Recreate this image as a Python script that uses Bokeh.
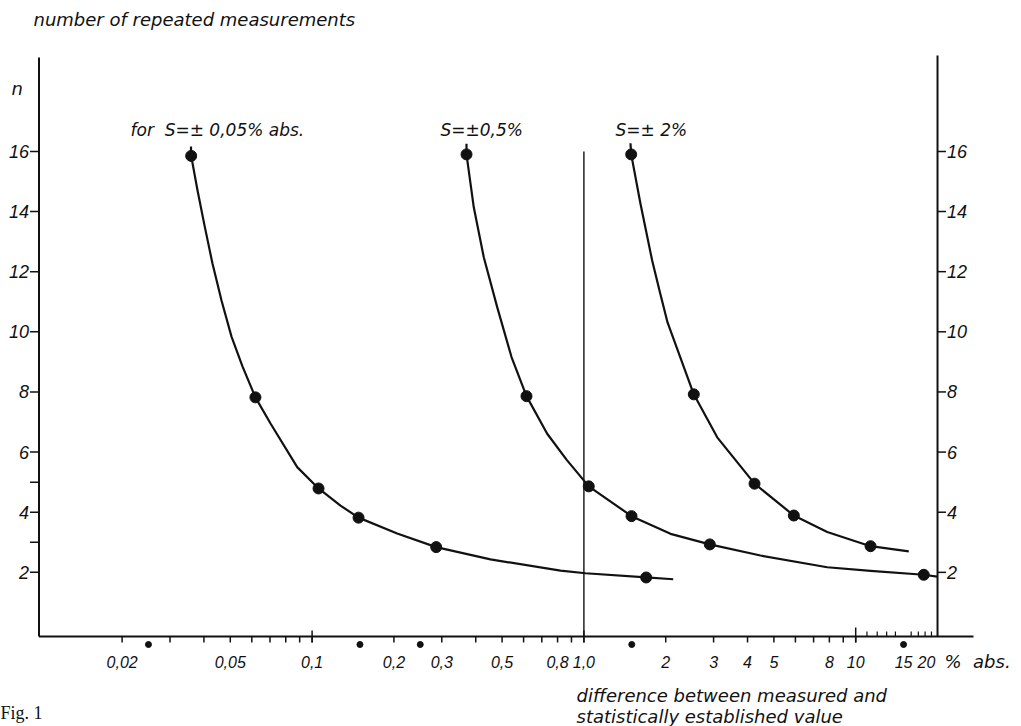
from bokeh.plotting import figure
from bokeh.models import Range1d
from bokeh.core.properties import value
from bokeh.embed import file_html
from bokeh.resources import INLINE

# ---------------- data ----------------
# curve "for S = ±0,05 % abs."
c1_line_x = [0.03584, 0.03590, 0.03789, 0.04019, 0.04300, 0.04642, 0.05052, 0.05544,
             0.06187, 0.07031, 0.08815, 0.1056, 0.1272, 0.1482, 0.2056, 0.2861,
             0.4532, 0.8202, 1.0137, 1.695, 2.131]
c1_line_y = [16.16, 15.85, 14.70, 13.54, 12.27, 11.04, 9.84, 8.85,
             7.82, 6.95, 5.50, 4.79, 4.22, 3.82, 3.29, 2.84,
             2.43, 2.06, 1.97, 1.83, 1.77]
c1_pts_x = [0.03590, 0.06187, 0.1056, 0.1482, 0.2861, 1.695]
c1_pts_y = [15.85, 7.82, 4.79, 3.82, 2.84, 1.83]

# curve "S = ±0,5 %"
c2_line_x = [0.3699, 0.3699, 0.3934, 0.4282, 0.4797, 0.5416, 0.6149, 0.7328, 0.8630,
             1.042, 1.497, 2.083, 2.905, 4.464, 7.857, 11.34, 17.80, 19.94]
c2_line_y = [16.25, 15.90, 14.14, 12.48, 10.82, 9.16, 7.86, 6.61, 5.75,
             4.86, 3.87, 3.28, 2.93, 2.56, 2.17, 2.05, 1.92, 1.86]
c2_pts_x = [0.3699, 0.6149, 1.042, 1.497, 2.905, 17.80]
c2_pts_y = [15.90, 7.86, 4.86, 3.87, 2.93, 1.92]

# curve "S = ±2 %"
c3_line_x = [1.4835, 1.493, 1.615, 1.783, 1.897, 2.031, 2.537, 3.094, 4.244, 5.921,
             7.857, 11.34, 15.68]
c3_line_y = [16.27, 15.90, 14.26, 12.37, 11.37, 10.31, 7.92, 6.49, 4.95, 3.89,
             3.34, 2.87, 2.70]
c3_pts_x = [1.493, 2.537, 4.244, 5.921, 11.34]
c3_pts_y = [15.90, 7.92, 4.95, 3.89, 2.87]

curve_labels = ["for\u00a0 S=\u00b1 0,05% abs.", "S=\u00b10,5%", "S=\u00b1 2%"]

# x axis (log) ticks and labels
x_tick_values = [0.02, 0.05, 0.1, 0.2, 0.3, 0.5, 0.8, 1.0, 2, 3, 4, 5, 8, 10, 15, 20]
x_tick_labels = ["0,02", "0,05", "0,1", "0,2", "0,3", "0,5", "0,8", "1,0",
                 "2", "3", "4", "5", "8", "10", "15", "20"]
x_down_ticks = [0.02, 0.03, 0.04, 0.05, 0.06, 0.07, 0.08, 0.09, 0.1,
                0.2, 0.3, 0.4, 0.5, 0.6, 0.7, 0.8, 0.9, 1.0,
                2, 3, 4, 5, 6, 7, 8, 9, 10]
x_cross_ticks = [0.1, 1.0, 10]
x_up_ticks = [11, 12, 13, 14, 16, 17, 18, 19]
x_marker_dots = [0.025, 0.15, 0.25, 1.5, 15]
x_unit_label = "%\u00a0 abs."
x_title = ["difference between measured and", "statistically established value"]

y_tick_values = [2, 4, 6, 8, 10, 12, 14, 16]
y_tick_labels = ["2", "4", "6", "8", "10", "12", "14", "16"]
y_minor_left = [3, 5]
y_title = "number of repeated measurements"
y_symbol = "n"
fig_caption = "Fig. 1"

ref_line_x = 1.0
ref_line_top = 16.0
x_axis_right = 20.0

# ---------------- page geometry (pixel -> data helpers) ----------------
W, H = 1021, 726
X_ONE_PX, DECADE_PX = 583.4, 271.8     # pixel of x = 1.0, pixels per decade
Y_ZERO_PX, UNIT_PX = 632.0, 30.07       # pixel of n = 0, pixels per unit of n


def xd(px):
    return 10 ** ((px - X_ONE_PX) / DECADE_PX)


def yd(py):
    return (Y_ZERO_PX - py) / UNIT_PX


p = figure(width=W, height=H, x_axis_type="log",
           x_range=Range1d(xd(0), xd(W)), y_range=Range1d(yd(H), yd(0)),
           x_axis_location=None, y_axis_location=None,
           output_backend="svg", toolbar_location=None,
           min_border=0, min_border_left=0, min_border_right=0,
           min_border_top=0, min_border_bottom=0)
p.outline_line_color = None
p.xgrid.visible = False
p.ygrid.visible = False
p.background_fill_color = "white"
p.border_fill_color = "white"

INK = "#111111"
TICK_FONT = value("Liberation Sans")
TXT_FONT = value("DejaVu Sans")

AX_L_PX, AX_B_PX = 38.5, 636.0
x_left = xd(AX_L_PX)
y_base = yd(AX_B_PX)

# ---- axis lines ----
p.segment(x0=[x_left, x_axis_right, x_left], y0=[y_base, y_base, y_base],
          x1=[x_left, x_axis_right, xd(973)], y1=[yd(57), yd(55), y_base],
          line_color=INK, line_width=2)

# ---- left axis ticks + labels ----
yl_ticks = y_tick_values + y_minor_left
p.segment(x0=[xd(AX_L_PX - 9)] * len(yl_ticks), y0=yl_ticks,
          x1=[x_left] * len(yl_ticks), y1=yl_ticks, line_color=INK, line_width=1.5)
p.text(x=[xd(28.5)] * len(y_tick_values), y=y_tick_values, text=y_tick_labels,
       text_font=TICK_FONT, text_font_style="italic", text_font_size="18px",
       text_align="right", text_baseline="middle", text_color=INK)

# ---- right axis ticks + labels ----
p.segment(x0=[x_axis_right] * len(y_tick_values), y0=y_tick_values,
          x1=[xd(945.5)] * len(y_tick_values), y1=y_tick_values,
          line_color=INK, line_width=1.5)
p.text(x=[xd(946.5)] * len(y_tick_values), y=y_tick_values, text=y_tick_labels,
       text_font=TICK_FONT, text_font_style="italic", text_font_size="18px",
       text_align="left", text_baseline="middle", text_color=INK)

# ---- bottom axis ticks + labels ----
p.segment(x0=x_down_ticks, y0=[y_base] * len(x_down_ticks), x1=x_down_ticks,
          y1=[yd(AX_B_PX + 6)] * len(x_down_ticks), line_color=INK, line_width=1.5)
p.segment(x0=x_cross_ticks, y0=[yd(AX_B_PX + 6)] * 3, x1=x_cross_ticks,
          y1=[yd(AX_B_PX - 6), yd(AX_B_PX - 6), yd(AX_B_PX - 9)],
          line_color=INK, line_width=1.5)
p.segment(x0=x_up_ticks, y0=[y_base] * len(x_up_ticks), x1=x_up_ticks,
          y1=[yd(AX_B_PX - 5)] * len(x_up_ticks), line_color=INK, line_width=1.2)
p.scatter(x=x_marker_dots, y=[yd(AX_B_PX + 8)] * len(x_marker_dots), size=6,
          color=INK)
# the last label ("20") sits left of its tick, against the right axis
label_shift = [0] * (len(x_tick_values) - 1) + [-11]
p.text(x=x_tick_values, y=[yd(661)] * len(x_tick_values), text=x_tick_labels,
       x_offset=label_shift,
       text_font=TICK_FONT, text_font_style="italic", text_font_size="16px",
       text_align="center", text_baseline="middle", text_color=INK)
p.text(x=[xd(944)], y=[yd(661)], text=[x_unit_label],
       text_font=TXT_FONT, text_font_style="italic", text_font_size="18px",
       text_align="left", text_baseline="middle", text_color=INK)

# ---- vertical reference line at 1,0 ----
p.segment(x0=[ref_line_x], y0=[y_base], x1=[ref_line_x], y1=[ref_line_top],
          line_color=INK, line_width=1.4)

# ---- curves and measured points ----
for lx, ly, px, py in [(c1_line_x, c1_line_y, c1_pts_x, c1_pts_y),
                       (c2_line_x, c2_line_y, c2_pts_x, c2_pts_y),
                       (c3_line_x, c3_line_y, c3_pts_x, c3_pts_y)]:
    p.line(lx, ly, line_color=INK, line_width=2.2, line_join="round")
    p.scatter(px, py, size=11, color=INK)

# ---- free texts ----
p.text(x=[xd(130), xd(440), xd(615)], y=[yd(129)] * 3, text=curve_labels,
       text_font=TXT_FONT, text_font_style="italic", text_font_size="17px",
       text_align="left", text_baseline="middle", text_color=INK)
p.text(x=[xd(33)], y=[yd(19)], text=[y_title],
       text_font=TXT_FONT, text_font_style="italic", text_font_size="18px",
       text_align="left", text_baseline="middle", text_color=INK)
p.text(x=[xd(11)], y=[yd(88)], text=[y_symbol],
       text_font=TXT_FONT, text_font_style="italic", text_font_size="18px",
       text_align="left", text_baseline="middle", text_color=INK)
p.text(x=[xd(576)] * 2, y=[yd(695), yd(716)], text=x_title,
       text_font=TXT_FONT, text_font_style="italic", text_font_size="18px",
       text_align="left", text_baseline="middle", text_color=INK)
p.text(x=[xd(0)], y=[yd(712)], text=[fig_caption],
       text_font=value("Liberation Serif"), text_font_style="normal",
       text_font_size="18px", text_align="left", text_baseline="middle",
       text_color=INK)

open("out.html", "w").write(file_html(p, INLINE))
